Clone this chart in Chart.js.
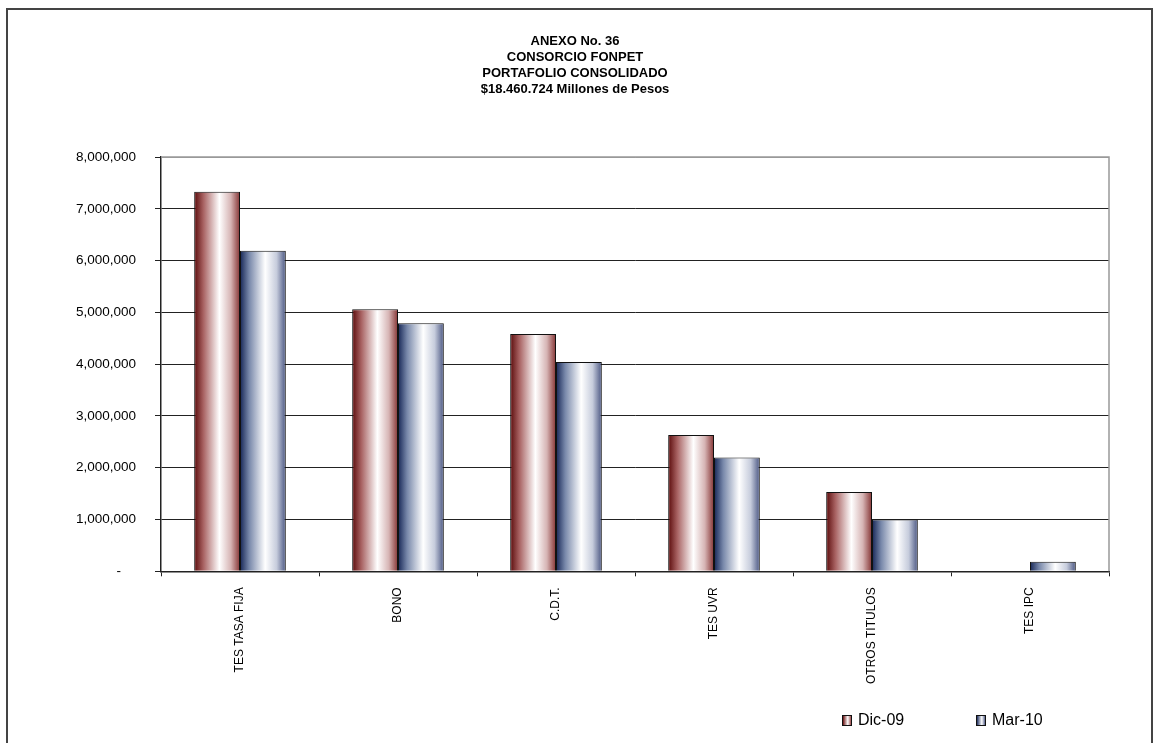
<!DOCTYPE html>
<html>
<head>
<meta charset="utf-8">
<script src="https://cdn.jsdelivr.net/npm/chart.js@4/dist/chart.umd.min.js"></script>
<style>
  body { margin: 0; background: #fff; font-family: "Liberation Sans", Arial, sans-serif; }
  #frame { position: absolute; left: 6px; top: 8px; width: 1143px; height: 800px; border: 2px solid #444; }
  #wrap { position: absolute; left: 0; top: 0; width: 1159px; height: 743px; overflow: hidden; }
  canvas { position: absolute; left: 0; top: 0; }
  .leg { position: absolute; top: 711px; font-size: 16px; color: #000; line-height: 18px; }
  .leg i { display: inline-block; width: 8px; height: 9px; border: 1px solid #111; margin-right: 6px; vertical-align: -1px; }
</style>
</head>
<body>
<div id="wrap">
  <div id="frame"></div>
  <canvas id="chart" width="1159" height="743"></canvas>
  <div class="leg" style="left:842px"><i style="background:linear-gradient(90deg,#6b1010,#fff 60%,#9a4848)"></i>Dic-09</div>
  <div class="leg" style="left:976px"><i style="background:linear-gradient(90deg,#1f2f5f,#fff 60%,#56618a)"></i>Mar-10</div>
</div>
<script>
const categories = ["TES TASA FIJA", "BONO", "C.D.T.", "TES UVR", "OTROS TITULOS", "TES IPC"];
const dic09 = [7330000, 5060000, 4580000, 2630000, 1530000, 0];
const mar10 = [6190000, 4790000, 4040000, 2200000, 1000000, 185000];
const titleLines = ["ANEXO No. 36", "CONSORCIO FONPET", "PORTAFOLIO CONSOLIDADO", "$18.460.724 Millones de Pesos"];

// gradient stops per dataset (left -> right across each bar)
const stops = [
    [[0, "#5a0a0a"], [0.2, "#a86262"], [0.55, "#ffffff"], [0.8, "#d6b4b4"], [1, "#853434"]],
    [[0, "#162656"], [0.2, "#7888aa"], [0.55, "#ffffff"], [0.8, "#c6ccdc"], [1, "#4a5682"]],
];

const barGradient = {
    id: "barGradient",
    beforeDatasetsDraw(chart) {
        const c = chart.ctx;
        chart.data.datasets.forEach((ds, di) => {
            chart.getDatasetMeta(di).data.forEach(bar => {
                const g = c.createLinearGradient(bar.x - bar.width / 2, 0, bar.x + bar.width / 2, 0);
                stops[di].forEach(s => g.addColorStop(s[0], s[1]));
                bar.options.backgroundColor = g;
            });
        });
    }
};

const plotBorder = {
    id: "plotBorder",
    beforeDatasetsDraw(chart) {
        const a = chart.chartArea, c = chart.ctx;
        c.save();
        c.strokeStyle = "#999";
        c.lineWidth = 1.5;
        c.beginPath();
        c.moveTo(a.left, a.top);
        c.lineTo(a.right, a.top);
        c.lineTo(a.right, a.bottom);
        c.stroke();
        c.restore();
    }
};

const ctx = document.getElementById("chart").getContext("2d");
new Chart(ctx, {
    type: "bar",
    data: {
        labels: categories,
        datasets: [
            { label: "Dic-09", data: dic09, backgroundColor: () => "#a05050", borderColor: "#111", borderWidth: 1 },
            { label: "Mar-10", data: mar10, backgroundColor: () => "#5060a0", borderColor: "#111", borderWidth: 1 },
        ],
    },
    options: {
        responsive: false,
        animation: false,
        categoryPercentage: 0.58,
        barPercentage: 1,
        layout: { padding: { left: 41, right: 50, top: 25, bottom: 48 } },
        plugins: {
            legend: { display: false },
            tooltip: { enabled: false },
            title: {
                display: true,
                text: titleLines,
                color: "#000",
                font: { family: "'Liberation Sans', Arial", size: 13, weight: "bold", lineHeight: 16 / 13 },
                padding: { top: 8, bottom: 60 },
            },
        },
        scales: {
            x: {
                grid: { display: true, drawOnChartArea: false, drawTicks: true, tickLength: 5, color: "#222" },
                border: { display: true, color: "#222", width: 1.5 },
                ticks: {
                    autoSkip: false,
                    maxRotation: 90,
                    minRotation: 90,
                    padding: 11,
                    color: "#000",
                    font: { family: "'Liberation Sans', Arial", size: 12 },
                },
            },
            y: {
                min: 0,
                max: 8000000,
                afterFit(scale) { scale.width = 120; },
                grid: {
                    color: c => (c.tick && c.tick.value === 8000000 ? "#999" : "#222"),
                    tickColor: "#222",
                    tickLength: 6,
                    lineWidth: 1,
                },
                border: { display: true, color: "#222", width: 1.5 },
                ticks: {
                    stepSize: 1000000,
                    padding: 19,
                    color: "#000",
                    font: { family: "'Liberation Sans', Arial", size: 13.5 },
                    callback: v => (v === 0 ? "-    " : v.toLocaleString("en-US")),
                },
            },
        },
    },
    plugins: [barGradient, plotBorder],
});
</script>
</body>
</html>
